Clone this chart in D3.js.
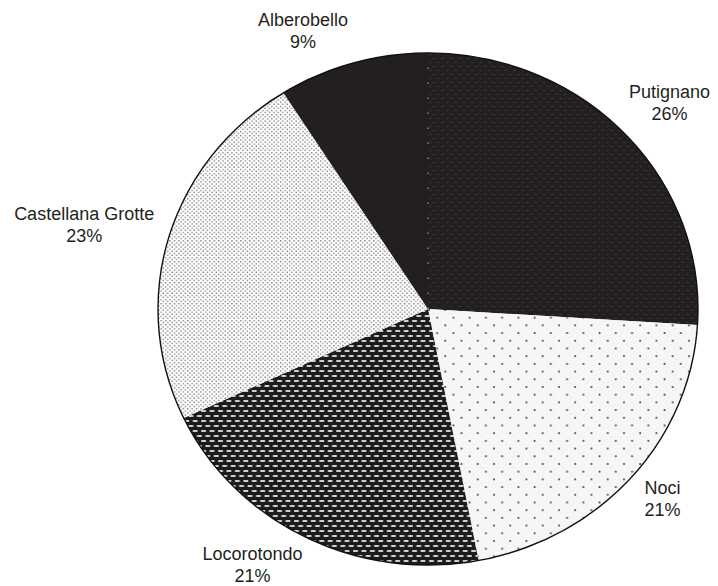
<!DOCTYPE html>
<html>
<head>
<meta charset="utf-8">
<script src="https://cdn.jsdelivr.net/npm/d3@7"></script>
<style>
  body { margin: 0; background: #fff; }
  svg { display: block; }
  text { font-family: "Liberation Sans", Arial, sans-serif; font-size: 18px; fill: #231f20; }
</style>
</head>
<body>
<script>
// share of each town (percent), clockwise from 12 o'clock
var towns = ['Putignano', 'Noci', 'Locorotondo', 'Castellana Grotte', 'Alberobello'];
var shares = [26, 21, 21, 23, 9];
var fills = ['url(#pDark)', 'url(#pSparse)', 'url(#pBrick)', 'url(#pFine)', '#231f20'];

var W = 718, H = 586;
var cx = 428, cy = 309, rx = 270, ry = 256;
var pad = 18;
// labels that were dragged away from the slice mid-angle in the original
var nudge = { 'Alberobello': [-32, 6], 'Locorotondo': [-22, -4], 'Noci': [5, -3], 'Putignano': [2, -3] };

var svg = d3.select(document.body).append('svg')
    .attr('width', W).attr('height', H);

var defs = svg.append('defs');

// dark slice with faint dashes
var p1 = defs.append('pattern').attr('id', 'pDark')
    .attr('patternUnits', 'userSpaceOnUse').attr('width', 8).attr('height', 8);
p1.append('rect').attr('width', 8).attr('height', 8).attr('fill', '#231f20');
p1.append('rect').attr('x', 1).attr('y', 1).attr('width', 2).attr('height', 1).attr('fill', '#3f3b3c');
p1.append('rect').attr('x', 5).attr('y', 5).attr('width', 2).attr('height', 1).attr('fill', '#3f3b3c');

// light slice with sparse dots
var p2 = defs.append('pattern').attr('id', 'pSparse')
    .attr('patternUnits', 'userSpaceOnUse').attr('width', 15.4).attr('height', 15.4);
p2.append('rect').attr('width', 15.4).attr('height', 15.4).attr('fill', '#f6f6f6');
p2.append('rect').attr('x', 4).attr('y', 4).attr('width', 1).attr('height', 1).attr('fill', '#e2e2e2');
p2.append('rect').attr('x', 11.7).attr('y', 11.7).attr('width', 1).attr('height', 1).attr('fill', '#e2e2e2');
p2.append('circle').attr('cx', 1).attr('cy', 1).attr('r', 1).attr('fill', '#444');
p2.append('circle').attr('cx', 8.7).attr('cy', 8.7).attr('r', 1).attr('fill', '#444');

// dark slice with light bricks
var p3 = defs.append('pattern').attr('id', 'pBrick')
    .attr('patternUnits', 'userSpaceOnUse').attr('width', 8).attr('height', 10);
p3.append('rect').attr('width', 8).attr('height', 10).attr('fill', '#1e1b1c');
p3.append('rect').attr('x', 1).attr('y', 1).attr('width', 4.5).attr('height', 2).attr('fill', '#cfcfcf');
p3.append('rect').attr('x', 5).attr('y', 6).attr('width', 3).attr('height', 2).attr('fill', '#cfcfcf');
p3.append('rect').attr('x', 0).attr('y', 6).attr('width', 1.5).attr('height', 2).attr('fill', '#cfcfcf');

// white slice with fine dots
var p4 = defs.append('pattern').attr('id', 'pFine')
    .attr('patternUnits', 'userSpaceOnUse').attr('width', 4.2).attr('height', 4.2);
p4.append('rect').attr('width', 4.2).attr('height', 4.2).attr('fill', '#fff');
p4.append('rect').attr('x', 0.4).attr('y', 0.4).attr('width', 1.3).attr('height', 1.3).attr('fill', '#7a7a7a');
p4.append('rect').attr('x', 2.5).attr('y', 2.5).attr('width', 1.3).attr('height', 1.3).attr('fill', '#7a7a7a');

var data = towns.map(function(t, i){ return { name: t, value: shares[i], fill: fills[i] }; });

var pie = d3.pie().sort(null).value(function(d){ return d.value; });
var arcs = pie(data);

var arc = d3.arc().innerRadius(0).outerRadius(ry);

var g = svg.append('g')
    .attr('transform', 'translate(' + cx + ',' + cy + ') scale(' + (rx / ry) + ',1)');

g.selectAll('path').data(arcs).enter()
    .append('path')
    .attr('d', arc)
    .attr('fill', function(d){ return d.data.fill; });

// dotted seam at 12 o'clock
svg.append('line')
    .attr('x1', cx).attr('y1', cy).attr('x2', cx).attr('y2', cy - ry + 2)
    .attr('stroke', '#9a9a9a').attr('stroke-width', 1.2)
    .attr('stroke-dasharray', '1.5,13.5');

svg.append('ellipse')
    .attr('cx', cx).attr('cy', cy).attr('rx', rx).attr('ry', ry)
    .attr('fill', 'none').attr('stroke', '#111').attr('stroke-width', 1.4);

// labels outside the pie
var total = d3.sum(shares);
arcs.forEach(function(d){
    var a = (d.startAngle + d.endAngle) / 2;
    var sx = Math.sin(a), sy = -Math.cos(a);
    var px = cx + (rx + pad) * sx;
    var py = cy + (ry + pad) * sy;

    var t = svg.append('text').attr('text-anchor', 'middle');
    var l1 = t.append('tspan').text(d.data.name);
    var l2 = t.append('tspan').text(Math.round(d.data.value / total * 100) + '%');
    var w = Math.max(l1.node().getComputedTextLength(), l2.node().getComputedTextLength());
    var h = 40;
    var n = nudge[d.data.name] || [0, 0];
    var bx = px + sx * w / 2 + n[0];
    var by = py + sy * h / 2 + n[1];
    l1.attr('x', bx).attr('y', by - 6.5);
    l2.attr('x', bx).attr('y', by + 15.5);
});
</script>
</body>
</html>
